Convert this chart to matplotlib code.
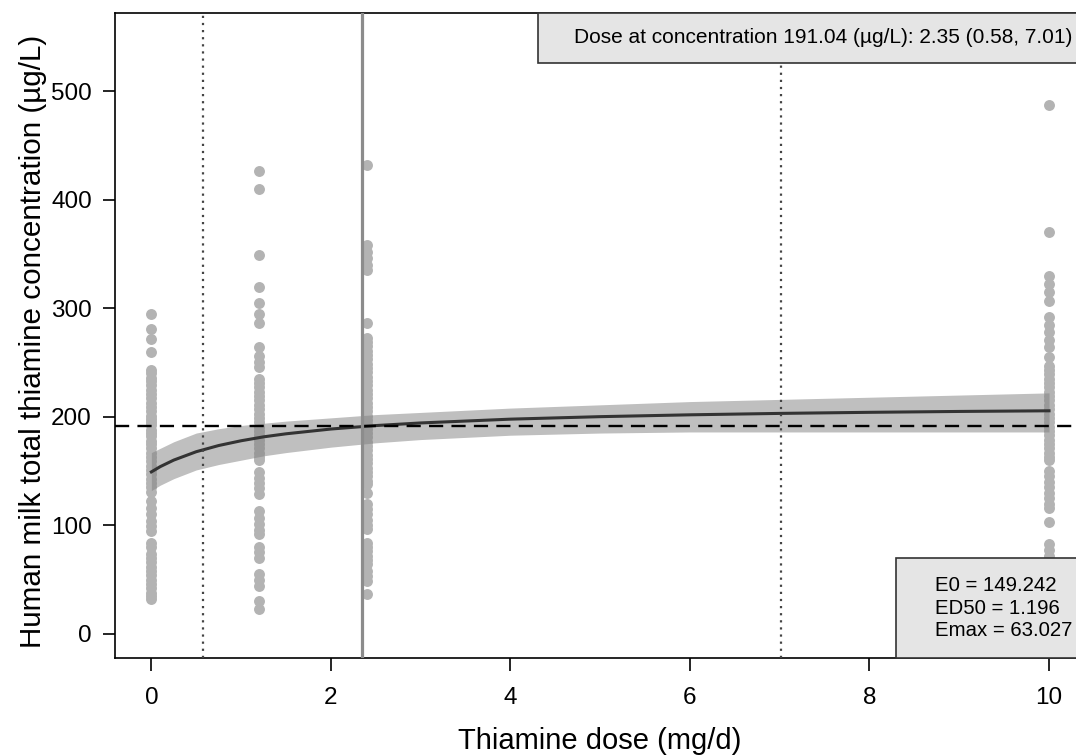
import numpy as np
import matplotlib.pyplot as plt
from matplotlib.patches import Rectangle

plt.rcParams['font.family'] = ['Liberation Sans', 'DejaVu Sans']

# observed milk concentrations per dose group
conc_0 = [295, 281, 272, 260, 243, 240, 236, 233, 229, 225, 221, 217, 213, 209, 205,
          201, 198, 195, 192, 188, 185, 182, 178, 175, 171, 167, 163, 159, 155, 151,
          147, 143, 139, 135, 131, 122, 116, 110, 104, 99, 95, 84, 80, 74, 70, 66, 62,
          58, 54, 50, 46, 42, 38, 35, 32]
conc_12 = [426, 410, 349, 320, 305, 295, 286, 264, 256, 250, 246, 235, 231, 227, 223,
           219, 215, 211, 207, 203, 199, 195, 191, 187, 183, 179, 175, 171, 167, 163,
           160, 149, 144, 139, 134, 129, 113, 107, 101, 96, 92, 80, 75, 70, 55, 50, 44,
           30, 23]
conc_24 = [432, 358, 352, 346, 340, 335, 286, 273, 269, 265, 261, 257, 253, 249, 245,
           241, 237, 233, 229, 225, 221, 217, 213, 209, 205, 201, 197, 193, 189, 185,
           181, 177, 173, 169, 165, 161, 157, 153, 149, 145, 141, 138, 130, 120, 115,
           110, 105, 100, 97, 84, 80, 76, 72, 68, 64, 58, 53, 49, 37]
conc_10 = [487, 370, 330, 322, 315, 307, 292, 285, 278, 271, 264, 255, 247, 243, 239,
           235, 231, 227, 223, 219, 215, 211, 207, 203, 199, 195, 191, 187, 183, 179,
           175, 171, 167, 163, 160, 150, 145, 140, 135, 130, 125, 120, 116, 103, 83, 77,
           72, 65]
groups = [(0, conc_0), (1.2, conc_12), (2.4, conc_24), (10, conc_10)]

# fitted Emax curve and confidence band
fit_x = [0, 0.1, 0.25, 0.5, 0.75, 1, 1.25, 1.5, 2, 2.5, 3, 4, 5, 6, 7, 8, 9, 10]
fit_y = [149.2, 154.1, 160.1, 167.8, 173.5, 177.9, 181.5, 184.3, 188.7, 191.9, 194.3,
         197.8, 200.1, 201.8, 203.1, 204.1, 204.9, 205.5]
band_lo = [132, 137, 143, 151, 156, 160, 164, 167, 172, 176, 179, 183, 185, 186, 186,
           186, 186, 186]
band_hi = [167, 171, 177, 185, 189, 192, 194, 196, 199, 202, 204, 208, 211, 214, 216,
           218, 220, 222]

target = 191.04
dose_est = 2.35
dose_ci = (0.58, 7.01)
params = ['E0 = 149.242', 'ED50 = 1.196', 'Emax = 63.027']

fig = plt.figure(figsize=(10.76, 7.56), dpi=100)
ax = fig.add_axes([0.1073, 0.130, 0.901, 0.8528])

for dose, vals in groups:
    ax.scatter([dose] * len(vals), vals, s=62, color='#b3b3b3', lw=0, zorder=2)

ax.fill_between(fit_x, band_lo, band_hi, color='#808080', alpha=0.5, lw=0, zorder=3)
ax.plot(fit_x, fit_y, color='#333333', lw=2.2, zorder=4)
ax.axhline(target, color='black', lw=1.7, ls=(0, (6, 3.5)), zorder=4)
ax.axvline(dose_est, color='#8c8c8c', lw=2.3, zorder=4)
for v in dose_ci:
    ax.axvline(v, color='#444444', lw=1.6, ls=(0, (1, 2.2)), zorder=4)

ax.set_xlim(-0.4, 10.4)
ax.set_ylim(-22, 572)
ax.set_xticks([0, 2, 4, 6, 8, 10])
ax.set_yticks([0, 100, 200, 300, 400, 500])
ax.tick_params(labelsize=17.5, length=9, width=1.2)
ax.tick_params(axis='x', pad=12)
ax.tick_params(axis='y', pad=8)
for s in ax.spines.values():
    s.set_linewidth(1.2)

# annotation boxes
ax.add_patch(Rectangle((4.31, 525.8), 6.09, 46.2, facecolor='#e5e5e5',
                       edgecolor='#333333', lw=1.2, zorder=6, clip_on=False))
ax.text(7.48, 549, 'Dose at concentration %.2f (µg/L): %.2f (%.2f, %.2f)'
        % (target, dose_est, dose_ci[0], dose_ci[1]),
        ha='center', va='center', fontsize=15, zorder=7)
ax.add_patch(Rectangle((8.30, -22), 2.1, 92.1, facecolor='#e5e5e5',
                       edgecolor='#333333', lw=1.2, zorder=6, clip_on=False))
ax.text(8.73, 23.5, '\n'.join(params), ha='left', va='center', fontsize=14.7,
        linespacing=1.24, zorder=7)

fig.text(600 / 1076, 1 - 741 / 756, 'Thiamine dose (mg/d)', ha='center', va='center',
         fontsize=21)
fig.text(33 / 1076, 1 - 341 / 756, 'Human milk total thiamine concentration (µg/L)',
         ha='center', va='center', rotation=90, fontsize=21.3)

fig.savefig('out.png', dpi=100)
